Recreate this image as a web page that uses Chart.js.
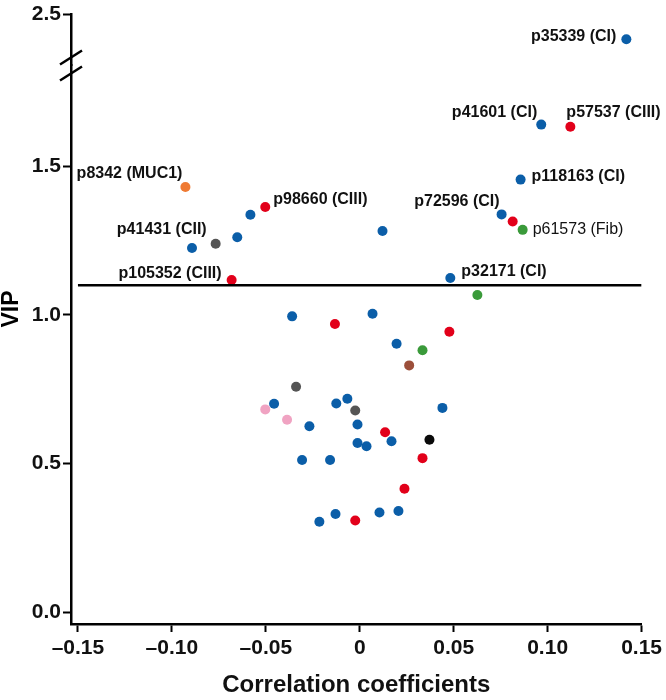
<!DOCTYPE html>
<html>
<head>
<meta charset="utf-8">
<script src="https://cdn.jsdelivr.net/npm/chart.js@4.4.1/dist/chart.umd.min.js"></script>
<style>
  html, body { margin: 0; padding: 0; background: #fff; }
  #wrap { width: 666px; height: 700px; }
</style>
</head>
<body>
<div id="wrap"><canvas id="vipChart" width="666" height="700"></canvas></div>
<script>
// correlation coefficient (x) and VIP (y) per peptide, grouped by colour
const blueX = [-0.0893, -0.0652, -0.0582, -0.036, 0.0966, 0.0856, 0.0755, 0.0121, 0.0482, 0.0068,
  0.0196, -0.0456, -0.0268, -0.0307, -0.0158, -0.0215, -0.0129, -0.0125, -0.0066, 0.044,
  -0.0012, 0.0169, -0.0012, 0.0036, 0.0105, 0.0206];
const blueY = [1.225, 1.261, 1.337, 0.995, 1.64, 1.455, 1.338, 1.282, 1.124, 1.004,
  0.903, 0.701, 0.625, 0.512, 0.512, 0.304, 0.33, 0.702, 0.718, 0.687,
  0.631, 0.575, 0.569, 0.558, 0.335, 0.34];
// the one point above the axis break
const blueTopX = [0.1419];
const blueTopY = [2.417];

const redX = [-0.0503, -0.0682, 0.1121, 0.0814, -0.0132, 0.0477, 0.0135, 0.0334, 0.0238, -0.0024];
const redY = [1.363, 1.117, 1.633, 1.314, 0.969, 0.943, 0.605, 0.518, 0.415, 0.308];

const grayX = [-0.0767, -0.0339, -0.0024];
const grayY = [1.239, 0.758, 0.678];

const greenX = [0.0867, 0.0626, 0.0334];
const greenY = [1.286, 1.067, 0.881];

const orangeX = [-0.0928];
const orangeY = [1.43];

const pinkX = [-0.0503, -0.0387];
const pinkY = [0.682, 0.647];

const brownX = [0.0263];
const brownY = [0.83];

const blackX = [0.0371];
const blackY = [0.58];

const vipThreshold = 1.1;

const xTicks = [-0.15, -0.10, -0.05, 0, 0.05, 0.10, 0.15];
const yTicks = [0, 0.5, 1.0, 1.5];
const yTopTicks = [2.5];

// named peptides
const labelNames = ['p35339 (CI)', 'p41601 (CI)', 'p57537 (CIII)', 'p118163 (CI)', 'p72596 (CI)',
  'p61573 (Fib)', 'p32171 (CI)', 'p98660 (CIII)', 'p8342 (MUC1)', 'p41431 (CII)', 'p105352 (CIII)'];
const labelX = [0.1419, 0.0966, 0.1121, 0.0856, 0.0755, 0.0867, 0.0482, -0.0503, -0.0928, -0.0767, -0.0682];
const labelY = [2.417, 1.64, 1.633, 1.455, 1.338, 1.286, 1.124, 1.363, 1.43, 1.239, 1.117];

// where each label sits relative to its point
const labelPlace = [
  { dx: -10, dy: -3, align: 'right', axis: 'yTop' },
  { dx: -4, dy: -12, align: 'right' },
  { dx: -4, dy: -14, align: 'left' },
  { dx: 11, dy: -3, align: 'left' },
  { dx: -2, dy: -13, align: 'right' },
  { dx: 10, dy: 0, align: 'left', bold: false },
  { dx: 11, dy: -6, align: 'left' },
  { dx: 8, dy: -7, align: 'left' },
  { dx: -3, dy: -13, align: 'right' },
  { dx: -9, dy: -14, align: 'right' },
  { dx: -10, dy: -6, align: 'right' }
];

const FONT = '"Liberation Sans", Arial, Helvetica, sans-serif';

function pts(xs, ys) {
  return xs.map((x, i) => ({ x: x, y: ys[i] }));
}

function dots(data, color, axis) {
  return {
    type: 'scatter',
    data: data,
    yAxisID: axis || 'y',
    pointRadius: 5,
    pointHoverRadius: 5,
    pointBorderWidth: 0,
    backgroundColor: color,
    borderColor: color
  };
}

const annotate = {
  id: 'annotate',
  afterDatasetsDraw(chart) {
    const c = chart.ctx;
    const xs = chart.scales.x;
    c.save();
    c.fillStyle = '#111';
    c.textBaseline = 'middle';
    labelNames.forEach((name, i) => {
      const p = labelPlace[i];
      const ys = chart.scales[p.axis || 'y'];
      c.font = (p.bold === false ? '' : 'bold ') + '16px ' + FONT;
      c.textAlign = p.align;
      c.fillText(name, xs.getPixelForValue(labelX[i]) + p.dx, ys.getPixelForValue(labelY[i]) + p.dy);
    });

    // axis break marks
    const yb = chart.scales.y.top;
    const ax = chart.chartArea.left;
    c.strokeStyle = '#000';
    c.lineWidth = 2.5;
    [-8, 8].forEach(off => {
      c.beginPath();
      c.moveTo(ax - 11, yb + off + 7);
      c.lineTo(ax + 11, yb + off - 7);
      c.stroke();
    });

    // y title
    c.translate(12, 309);
    c.rotate(-Math.PI / 2);
    c.textAlign = 'center';
    c.font = 'bold 23px ' + FONT;
    c.fillStyle = '#000';
    c.fillText('VIP', 0, 0);
    c.restore();
  }
};

const axisCommon = {
  grid: { drawOnChartArea: false, drawTicks: true, tickLength: 8, tickWidth: 2, tickColor: '#000' },
  border: { display: true, color: '#000', width: 2.5 }
};

new Chart(document.getElementById('vipChart'), {
  type: 'scatter',
  data: {
    datasets: [
      {
        type: 'line',
        data: [{ x: -0.15, y: vipThreshold }, { x: 0.15, y: vipThreshold }],
        yAxisID: 'y',
        borderColor: '#000',
        borderWidth: 2.5,
        pointRadius: 0,
        fill: false
      },
      dots(pts(blueX, blueY), '#0b5ea8'),
      dots(pts(blueTopX, blueTopY), '#0b5ea8', 'yTop'),
      dots(pts(redX, redY), '#e2001a'),
      dots(pts(grayX, grayY), '#555555'),
      dots(pts(greenX, greenY), '#3a9a3a'),
      dots(pts(orangeX, orangeY), '#ef7a33'),
      dots(pts(pinkX, pinkY), '#f0a3c2'),
      dots(pts(brownX, brownY), '#9c4f3a'),
      dots(pts(blackX, blackY), '#0a0a0a')
    ]
  },
  options: {
    responsive: false,
    animation: false,
    layout: { padding: { top: 13, right: 23, left: 0, bottom: 0 } },
    plugins: {
      legend: { display: false },
      tooltip: { enabled: false }
    },
    scales: {
      x: {
        type: 'linear',
        min: -0.1537,
        max: 0.15,
        ...axisCommon,
        afterBuildTicks: s => { s.ticks = xTicks.map(v => ({ value: v })); },
        afterFit: s => { s.height = 76; },
        ticks: {
          color: '#111',
          padding: 4,
          font: { family: FONT, size: 21, weight: 'bold' },
          callback: v => v === 0 ? '0' : (v < 0 ? '\u2013' : '') + Math.abs(v).toFixed(2)
        },
        title: {
          display: true,
          text: 'Correlation coefficients',
          color: '#111',
          font: { family: FONT, size: 24, weight: 'bold' },
          padding: { top: 0, bottom: 0 }
        }
      },
      y: {
        type: 'linear',
        position: 'left',
        stack: 'vip',
        stackWeight: 560,
        min: -0.04,
        max: 1.839,
        ...axisCommon,
        afterBuildTicks: s => { s.ticks = yTicks.map(v => ({ value: v })); },
        afterFit: s => { s.width = 71; },
        ticks: {
          color: '#111',
          padding: 2,
          font: { family: FONT, size: 21, weight: 'bold' },
          callback: v => v.toFixed(1)
        }
      },
      yTop: {
        type: 'linear',
        position: 'left',
        stack: 'vip',
        stackWeight: 51,
        min: 2.329,
        max: 2.5,
        ...axisCommon,
        afterBuildTicks: s => { s.ticks = yTopTicks.map(v => ({ value: v })); },
        afterFit: s => { s.width = 71; },
        ticks: {
          color: '#111',
          padding: 2,
          font: { family: FONT, size: 21, weight: 'bold' },
          callback: v => v.toFixed(1)
        }
      }
    }
  },
  plugins: [annotate]
});
</script>
</body>
</html>
